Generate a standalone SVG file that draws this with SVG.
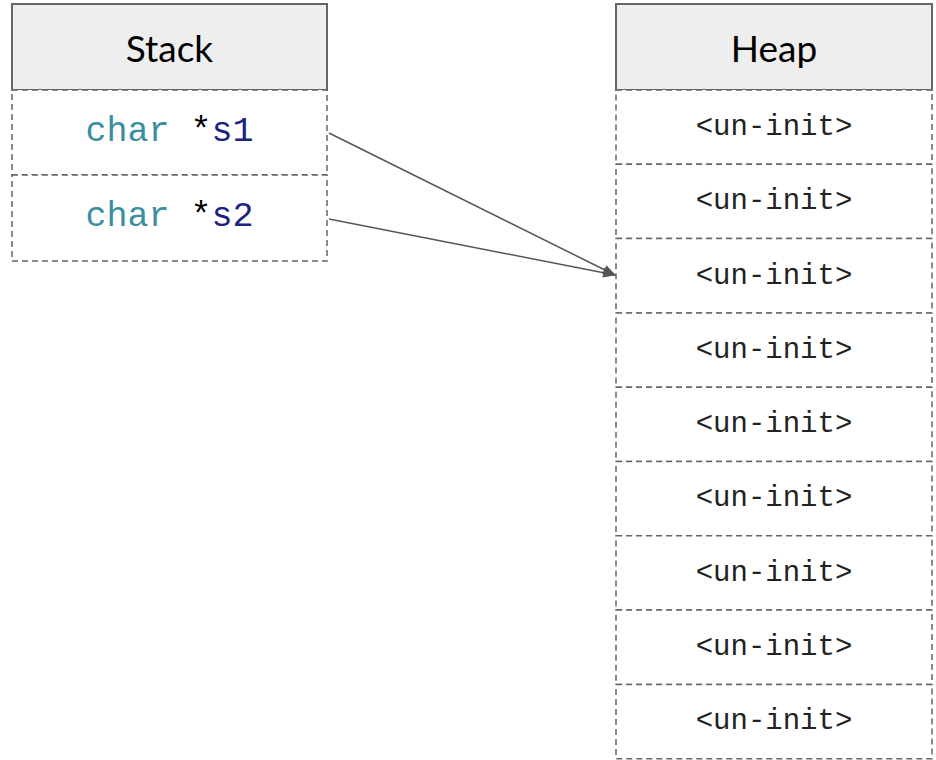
<svg xmlns="http://www.w3.org/2000/svg" width="936" height="760" viewBox="0 0 936 760">
<style>
.hdr{fill:#eeeeee;stroke:#666666;stroke-width:2}
.cell{fill:#ffffff;stroke:#666666;stroke-width:1.5;stroke-dasharray:6 4}
.title{font-family:Lato,"Open Sans",sans-serif;font-size:37px;font-weight:400;fill:#000;text-anchor:middle;dominant-baseline:central}
.mono{font-family:"Liberation Mono",monospace;text-anchor:middle;dominant-baseline:central}
.st{font-size:35px}
.hp{font-size:29px;fill:#222}
.kw{fill:#3a8ea0}
.id{fill:#1a237e}
.conn{stroke:#555555;stroke-width:1.5;fill:none}
</style>
<defs>
<marker id="ah" markerWidth="13" markerHeight="10" refX="12" refY="5" orient="auto" markerUnits="userSpaceOnUse">
<path d="M0,0 L13,5 L0,10 z" fill="#555555"/>
</marker>
</defs>
<g id="stack">
<rect class="hdr" x="12" y="4" width="315" height="86"/>
<text class="title" x="169.5" y="47">Stack</text>
<rect class="cell" x="12" y="90" width="315" height="85"/>
<text class="mono st" x="169.5" y="132"><tspan class="kw">char</tspan> *<tspan class="id">s1</tspan></text>
<rect class="cell" x="12" y="175" width="315" height="86"/>
<text class="mono st" x="169.5" y="217"><tspan class="kw">char</tspan> *<tspan class="id">s2</tspan></text>
</g>
<g id="heap">
<rect class="hdr" x="616" y="4" width="316" height="86"/>
<text class="title" x="774" y="47">Heap</text>
<rect class="cell" x="616" y="90" width="316" height="74.3"/>
<text class="mono hp" x="774" y="127">&lt;un-init&gt;</text>
<rect class="cell" x="616" y="164.3" width="316" height="74.3"/>
<text class="mono hp" x="774" y="201.5">&lt;un-init&gt;</text>
<rect class="cell" x="616" y="238.6" width="316" height="74.3"/>
<text class="mono hp" x="774" y="276">&lt;un-init&gt;</text>
<rect class="cell" x="616" y="312.9" width="316" height="74.3"/>
<text class="mono hp" x="774" y="350">&lt;un-init&gt;</text>
<rect class="cell" x="616" y="387.2" width="316" height="74.3"/>
<text class="mono hp" x="774" y="424.5">&lt;un-init&gt;</text>
<rect class="cell" x="616" y="461.5" width="316" height="74.3"/>
<text class="mono hp" x="774" y="498.5">&lt;un-init&gt;</text>
<rect class="cell" x="616" y="535.8" width="316" height="74.3"/>
<text class="mono hp" x="774" y="573">&lt;un-init&gt;</text>
<rect class="cell" x="616" y="610.1" width="316" height="74.3"/>
<text class="mono hp" x="774" y="647">&lt;un-init&gt;</text>
<rect class="cell" x="616" y="684.4" width="316" height="74.3"/>
<text class="mono hp" x="774" y="721.5">&lt;un-init&gt;</text>
</g>
<g id="connectors">
<line class="conn" x1="329" y1="133" x2="615" y2="275" marker-end="url(#ah)"/>
<line class="conn" x1="329" y1="219" x2="615" y2="275" marker-end="url(#ah)"/>
</g>
</svg>
